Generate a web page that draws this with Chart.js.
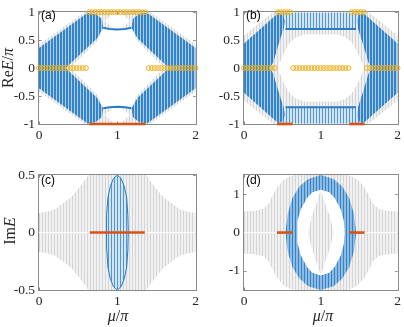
<!DOCTYPE html>
<html>
<head>
<meta charset="utf-8">
<script src="https://cdn.jsdelivr.net/npm/chart.js@4.4.0/dist/chart.umd.min.js"></script>
<style>
html, body { margin: 0; padding: 0; background: #fff; }
#wrap { position: relative; width: 404px; height: 327px; overflow: hidden; }
canvas { position: absolute; }
.lab { position: absolute; font-family: 'Liberation Serif', serif; font-size: 16px; color: #262626; white-space: nowrap; transform: translate(-50%, -50%); }
.rot { transform: translate(-50%, -50%) rotate(-90deg); }
.tag { position: absolute; font-family: 'Liberation Sans', Arial, sans-serif; font-size: 12px; color: #000; }
</style>
</head>
<body>
<div id="wrap">
  <canvas id="pa" width="202" height="163" style="left:0;top:0"></canvas>
  <canvas id="pb" width="202" height="163" style="left:202px;top:0"></canvas>
  <canvas id="pc" width="202" height="164" style="left:0;top:163px"></canvas>
  <canvas id="pd" width="202" height="164" style="left:202px;top:163px"></canvas>
  <div class="lab rot" style="left:8px;top:68px">Re<i>E</i>/<i>π</i></div>
  <div class="lab rot" style="left:10px;top:231px">Im<i>E</i></div>
  <div class="lab" style="left:118px;top:316px"><i>μ</i>/<i>π</i></div>
  <div class="lab" style="left:323px;top:316px"><i>μ</i>/<i>π</i></div>
  <div class="tag" style="left:41px;top:8px">(a)</div>
  <div class="tag" style="left:246px;top:8px">(b)</div>
  <div class="tag" style="left:41px;top:173px">(c)</div>
  <div class="tag" style="left:246px;top:173px">(d)</div>
</div>
<script>
// tick labels
const xTicks = [0, 1, 2];
const yTicksTop = [-1, -0.5, 0, 0.5, 1];
const yTicksC = [-0.5, 0, 0.5];
const yTicksD = [-1, 0, 1];

// (a) orange rings: E=0 and E=pi edge modes (mu/pi)
const aZeroL = [0, 0.04, 0.08, 0.12, 0.16, 0.2, 0.24, 0.28, 0.32, 0.36, 0.4, 0.44, 0.48, 0.52, 0.56, 0.6];
const aPi = [0.64, 0.68, 0.72, 0.76, 0.8, 0.84, 0.88, 0.92, 0.96, 1, 1.04, 1.08, 1.12, 1.16, 1.2, 1.24, 1.28, 1.32, 1.36];
const aZeroR = [1.4, 1.44, 1.48, 1.52, 1.56, 1.6, 1.64, 1.68, 1.72, 1.76, 1.8, 1.84, 1.88, 1.92, 1.96, 2];
const aRed = [[0.64, -1], [1.36, -1]];

// (a) bulk bands
const aBlueUL = [[0, 0.36], [0.62, 0.99], [0.72, 0.97], [0.8, 0.88], [0.82, 0.72], [0.74, 0.53], [0.34, 0], [0, 0]];
const aBlueUR = [[2, 0.36], [1.38, 0.99], [1.28, 0.97], [1.2, 0.88], [1.18, 0.72], [1.26, 0.53], [1.66, 0], [2, 0]];
const aBlueLL = [[0, -0.36], [0.62, -0.99], [0.72, -0.97], [0.8, -0.88], [0.82, -0.72], [0.74, -0.53], [0.34, 0], [0, 0]];
const aBlueLR = [[2, -0.36], [1.38, -0.99], [1.28, -0.97], [1.2, -0.88], [1.18, -0.72], [1.26, -0.53], [1.66, 0], [2, 0]];
const aFlatTop = [[0.82, 0.72], [0.9, 0.7], [1, 0.69], [1.1, 0.7], [1.18, 0.72]];
const aFlatBot = [[0.82, -0.72], [0.9, -0.7], [1, -0.69], [1.1, -0.7], [1.18, -0.72]];
const aGrayUL = [[0, 0.42], [0.58, 1], [0.97, 1], [0.84, 0.84], [0.94, 0.72], [0.8, 0.72], [0.76, 0.5], [0.4, 0], [0, 0]];
const aGrayUR = [[2, 0.42], [1.42, 1], [1.03, 1], [1.16, 0.84], [1.06, 0.72], [1.2, 0.72], [1.24, 0.5], [1.6, 0], [2, 0]];
const aGrayLL = [[0, -0.42], [0.58, -1], [0.97, -1], [0.84, -0.84], [0.94, -0.72], [0.8, -0.72], [0.76, -0.5], [0.4, 0], [0, 0]];
const aGrayLR = [[2, -0.42], [1.42, -1], [1.03, -1], [1.16, -0.84], [1.06, -0.72], [1.2, -0.72], [1.24, -0.5], [1.6, 0], [2, 0]];

// (b) orange rings and red segments
const bZeroL = [0, 0.04, 0.08, 0.12, 0.16, 0.2, 0.24, 0.28, 0.32, 0.36, 0.4];
const bPiL = [0.44, 0.48, 0.52, 0.56, 0.6];
const bZeroM = [0.64, 0.68, 0.72, 0.76, 0.8, 0.84, 0.88, 0.92, 0.96, 1, 1.04, 1.08, 1.12, 1.16, 1.2, 1.24, 1.28, 1.32, 1.36];
const bPiR = [1.4, 1.44, 1.48, 1.52, 1.56];
const bZeroR = [1.6, 1.64, 1.68, 1.72, 1.76, 1.8, 1.84, 1.88, 1.92, 1.96, 2];
const bRedL = [[0.43, -1], [0.63, -1]];
const bRedR = [[1.37, -1], [1.57, -1]];

// (b) bulk bands
const bGray = [[0, 0.58], [0.38, 1], [1.62, 1], [2, 0.58], [2, -0.58], [1.62, -1], [0.38, -1], [0, -0.58]];
const bHole = [[0.44, 0], [0.52, 0.28], [0.6, 0.46], [0.68, 0.55], [0.78, 0.6], [1.22, 0.6], [1.32, 0.55], [1.4, 0.46], [1.48, 0.28], [1.56, 0],
  [1.48, -0.28], [1.4, -0.46], [1.32, -0.55], [1.22, -0.6], [0.78, -0.6], [0.68, -0.55], [0.6, -0.46], [0.52, -0.28]];
const bBlueUL = [[0, 0.44], [0.45, 0.99], [0.5, 0.95], [0.53, 0.85], [0.52, 0.72], [0.45, 0.42], [0.38, 0.1], [0.34, 0], [0, 0]];
const bBlueUR = [[2, 0.44], [1.55, 0.99], [1.5, 0.95], [1.47, 0.85], [1.48, 0.72], [1.55, 0.42], [1.62, 0.1], [1.66, 0], [2, 0]];
const bBlueLL = [[0, -0.44], [0.45, -0.99], [0.5, -0.95], [0.53, -0.85], [0.52, -0.72], [0.45, -0.42], [0.38, -0.1], [0.34, 0], [0, 0]];
const bBlueLR = [[2, -0.44], [1.55, -0.99], [1.5, -0.95], [1.47, -0.85], [1.48, -0.72], [1.55, -0.42], [1.62, -0.1], [1.66, 0], [2, 0]];
const bBlueTop = [[0.48, 0.99], [1.52, 0.99], [1.48, 0.85], [1.45, 0.69], [0.55, 0.69], [0.52, 0.85]];
const bBlueBot = [[0.48, -0.99], [1.52, -0.99], [1.48, -0.85], [1.45, -0.69], [0.55, -0.69], [0.52, -0.85]];
const bEdgeTop = [[0.54, 0.7], [1.46, 0.7]];
const bEdgeBot = [[0.54, -0.7], [1.46, -0.7]];

// (c) imaginary parts
const cGray = [[0, 0.17], [0.1, 0.18], [0.2, 0.2], [0.3, 0.25], [0.4, 0.3], [0.5, 0.38], [0.58, 0.45], [0.63, 0.5], [1.37, 0.5], [1.42, 0.45], [1.5, 0.38], [1.6, 0.3], [1.7, 0.25], [1.8, 0.2], [1.9, 0.18], [2, 0.17],
  [2, -0.17], [1.9, -0.18], [1.8, -0.2], [1.7, -0.25], [1.6, -0.3], [1.5, -0.38], [1.42, -0.45], [1.37, -0.5], [0.63, -0.5], [0.58, -0.45], [0.5, -0.38], [0.4, -0.3], [0.3, -0.25], [0.2, -0.2], [0.1, -0.18], [0, -0.17]];
const cBlue = [[1, 0.5], [1.05, 0.47], [1.09, 0.4], [1.12, 0.3], [1.135, 0.15], [1.14, 0], [1.135, -0.15], [1.12, -0.3], [1.09, -0.4], [1.05, -0.47],
  [1, -0.5], [0.95, -0.47], [0.91, -0.4], [0.88, -0.3], [0.865, -0.15], [0.86, 0], [0.865, 0.15], [0.88, 0.3], [0.91, 0.4], [0.95, 0.47], [1, 0.5]];
const cRed = [[0.65, 0], [1.35, 0]];
const cGapL = [[0, 0], [0.62, 0]];
const cGapR = [[1.38, 0], [2, 0]];

// (d) imaginary parts
const dGray = [[0, 0.55], [0.15, 0.57], [0.25, 0.62], [0.32, 0.75], [0.38, 1], [0.44, 1.2], [0.52, 1.38], [0.6, 1.47], [0.66, 1.5], [1.34, 1.5], [1.4, 1.47], [1.48, 1.38], [1.56, 1.2], [1.62, 1], [1.68, 0.75], [1.75, 0.62], [1.85, 0.57], [2, 0.55],
  [2, -0.55], [1.85, -0.57], [1.75, -0.62], [1.68, -0.75], [1.62, -1], [1.56, -1.2], [1.48, -1.38], [1.4, -1.47], [1.34, -1.5], [0.66, -1.5], [0.6, -1.47], [0.52, -1.38], [0.44, -1.2], [0.38, -1], [0.32, -0.75], [0.25, -0.62], [0.15, -0.57], [0, -0.55]];
const dOuter = [[1, 1.5], [1.165, 1.4], [1.28, 1.2], [1.37, 0.9], [1.43, 0.5], [1.46, 0], [1.43, -0.5], [1.37, -0.9], [1.28, -1.2], [1.165, -1.4],
  [1, -1.5], [0.835, -1.4], [0.72, -1.2], [0.63, -0.9], [0.57, -0.5], [0.54, 0], [0.57, 0.5], [0.63, 0.9], [0.72, 1.2], [0.835, 1.4], [1, 1.5]];
const dInner = [[1, 1.12], [1.11, 1.05], [1.18, 0.9], [1.26, 0.6], [1.3, 0.3], [1.31, 0], [1.3, -0.3], [1.26, -0.6], [1.18, -0.9], [1.11, -1.05],
  [1, -1.12], [0.89, -1.05], [0.82, -0.9], [0.74, -0.6], [0.7, -0.3], [0.69, 0], [0.7, 0.3], [0.74, 0.6], [0.82, 0.9], [0.89, 1.05], [1, 1.12]];
const dLens = [[1, 1.12], [1.05, 0.8], [1.12, 0.4], [1.17, 0], [1.12, -0.4], [1.05, -0.8], [1, -1.12], [0.95, -0.8], [0.88, -0.4], [0.83, 0], [0.88, 0.4], [0.95, 0.8]];
const dRedL = [[0.43, 0], [0.63, 0]];
const dRedR = [[1.37, 0], [1.57, 0]];
const dGapL = [[0, 0], [0.43, 0]];
const dGapR = [[1.57, 0], [2, 0]];

// stripe textures, like the dense vertical lines of the spectra
function stripes(ink, paper, w) {
  const c = document.createElement('canvas');
  c.width = 3; c.height = 3;
  const g = c.getContext('2d');
  g.fillStyle = paper; g.fillRect(0, 0, 3, 3);
  g.fillStyle = ink; g.fillRect(0, 0, w, 3);
  return g.createPattern(c, 'repeat');
}
const blueFill = stripes('#3584c6', '#aacdeb', 2);
const blueRing = stripes('#3584c6', '#8dbbe3', 1);
const blueLight = stripes('#5297d1', '#d3e5f4', 1);
const grayFill = stripes('#d4d4d4', '#f1f1f1', 1);

const pts = a => a.map(p => ({ x: p[0], y: p[1] }));
function poly(a, bg, order) {
  return { data: pts(a), showLine: true, fill: 'shape', backgroundColor: bg, borderColor: 'transparent', borderWidth: 0, pointRadius: 0, order: order };
}
function seg(a, color, w, order) {
  return { data: pts(a), showLine: true, fill: false, borderColor: color, borderWidth: w, pointRadius: 0, order: order, clip: false };
}
function rings(xs, y) {
  return { data: xs.map(x => ({ x: x, y: y })), showLine: false, pointStyle: 'circle', pointRadius: 2.4,
    borderColor: '#EDB120', backgroundColor: 'rgba(0,0,0,0)', borderWidth: 1, order: 1, clip: false };
}

// box with inward ticks, MATLAB style
const boxPlugin = {
  id: 'box',
  beforeDatasetsDraw(chart) {
    const { ctx, chartArea: a, scales } = chart;
    ctx.save();
    ctx.strokeStyle = '#8a8a8a';
    ctx.lineWidth = 1;
    ctx.strokeRect(Math.round(a.left) - 0.5, Math.round(a.top) - 0.5, Math.round(a.right - a.left) + 1, Math.round(a.bottom - a.top) + 1);
    ctx.beginPath();
    scales.x.ticks.forEach(t => {
      const px = Math.round(scales.x.getPixelForValue(t.value)) + 0.5;
      ctx.moveTo(px, a.bottom); ctx.lineTo(px, a.bottom - 2.5);
      ctx.moveTo(px, a.top); ctx.lineTo(px, a.top + 2.5);
    });
    scales.y.ticks.forEach(t => {
      const py = Math.round(scales.y.getPixelForValue(t.value)) + 0.5;
      ctx.moveTo(a.left, py); ctx.lineTo(a.left + 2.5, py);
      ctx.moveTo(a.right, py); ctx.lineTo(a.right - 2.5, py);
    });
    ctx.stroke();
    ctx.restore();
  }
};

function panel(id, yMin, yMax, yTicks, yWidth, xHeight, pad, datasets) {
  return new Chart(document.getElementById(id), {
    type: 'scatter',
    data: { datasets: datasets },
    options: {
      responsive: false,
      animation: false,
      events: [],
      layout: { padding: pad },
      plugins: { legend: { display: false }, tooltip: { enabled: false } },
      scales: {
        x: {
          type: 'linear', min: 0, max: 2,
          afterBuildTicks: ax => { ax.ticks = xTicks.map(v => ({ value: v })); },
          afterFit: ax => { ax.height = xHeight; },
          grid: { display: false, drawTicks: false },
          border: { display: false },
          ticks: { padding: 3, color: '#262626', font: { family: 'Liberation Serif', size: 13.5 }, callback: v => String(v) }
        },
        y: {
          type: 'linear', min: yMin, max: yMax,
          afterBuildTicks: ax => { ax.ticks = yTicks.map(v => ({ value: v })); },
          afterFit: ax => { ax.width = yWidth; },
          grid: { display: false, drawTicks: false },
          border: { display: false },
          ticks: { padding: 4, color: '#262626', font: { family: 'Liberation Serif', size: 13.5 }, callback: v => String(v) }
        }
      }
    },
    plugins: [boxPlugin]
  });
}

panel('pa', -1, 1, yTicksTop, 39, 39, { top: 6, right: 5 }, [
  seg(aRed, '#D95319', 2.6, 0),
  rings(aZeroL, 0), rings(aPi, 1), rings(aZeroR, 0),
  seg(aFlatTop, '#2a7dc2', 2, 2), seg(aFlatBot, '#2a7dc2', 2, 2),
  poly(aBlueUL, blueFill, 3), poly(aBlueUR, blueFill, 3), poly(aBlueLL, blueFill, 3), poly(aBlueLR, blueFill, 3),
  poly(aGrayUL, grayFill, 5), poly(aGrayUR, grayFill, 5), poly(aGrayLL, grayFill, 5), poly(aGrayLR, grayFill, 5)
]);

panel('pb', -1, 1, yTicksTop, 42, 39, { top: 6, right: 3 }, [
  seg(bRedL, '#D95319', 2.6, 0), seg(bRedR, '#D95319', 2.6, 0),
  rings(bZeroL, 0), rings(bPiL, 1), rings(bZeroM, 0), rings(bPiR, 1), rings(bZeroR, 0),
  seg(bEdgeTop, '#2a7dc2', 2, 2), seg(bEdgeBot, '#2a7dc2', 2, 2),
  poly(bBlueUL, blueFill, 3), poly(bBlueUR, blueFill, 3), poly(bBlueLL, blueFill, 3), poly(bBlueLR, blueFill, 3),
  poly(bBlueTop, blueLight, 3), poly(bBlueBot, blueLight, 3),
  poly(bHole, '#ffffff', 4),
  poly(bGray, grayFill, 5)
]);

panel('pc', -0.5, 0.5, yTicksC, 39, 37, { top: 8, right: 5 }, [
  seg(cRed, '#D95319', 2.6, 0),
  { ...seg(cBlue, '#2a7dc2', 1, 2), clip: undefined },
  poly(cBlue, blueLight, 3),
  seg(cGapL, '#ffffff', 1.2, 4), seg(cGapR, '#ffffff', 1.2, 4),
  poly(cGray, grayFill, 5)
]);

panel('pd', -1.5, 1.5, yTicksD, 42, 37, { top: 8, right: 3 }, [
  seg(dRedL, '#D95319', 2.6, 0), seg(dRedR, '#D95319', 2.6, 0),
  poly(dLens, grayFill, 2),
  poly(dInner, '#ffffff', 3),
  poly(dOuter, blueRing, 4),
  seg(dGapL, '#ffffff', 1.2, 4.5), seg(dGapR, '#ffffff', 1.2, 4.5),
  poly(dGray, grayFill, 5)
]);
</script>
</body>
</html>
